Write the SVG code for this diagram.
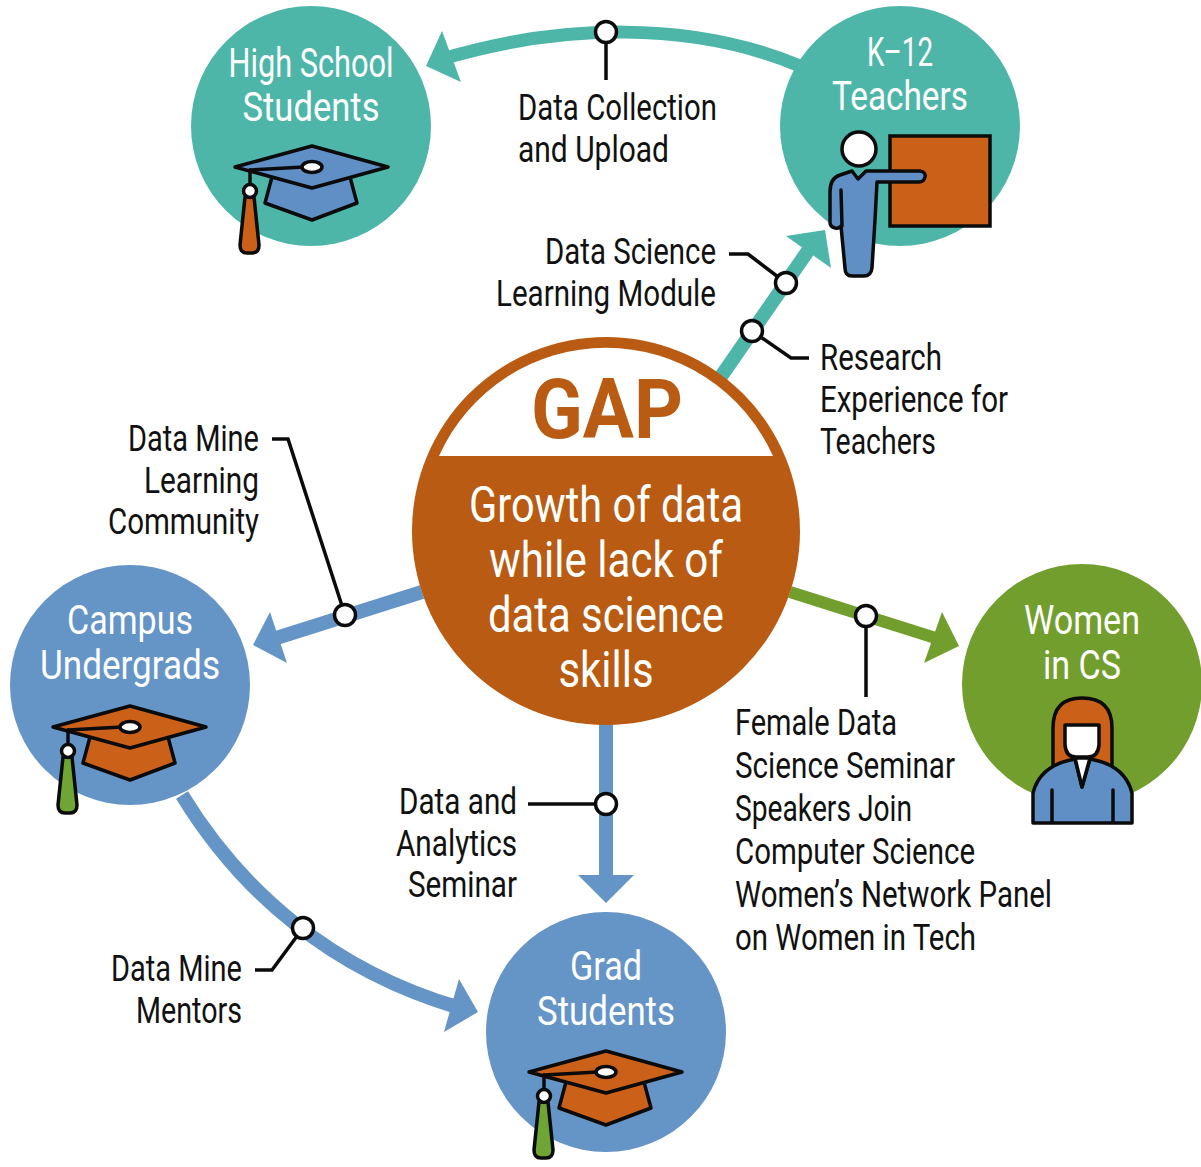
<svg xmlns="http://www.w3.org/2000/svg" width="1201" height="1167" viewBox="0 0 1201 1167">
<style>
.t{font-family:"Roboto","Liberation Sans",sans-serif;font-size:37px;fill:#111;}
.w{font-family:"Roboto","Liberation Sans",sans-serif;font-size:41px;fill:#fff;text-anchor:middle;}
.g{font-family:"Roboto","Liberation Sans",sans-serif;font-size:50px;fill:#fff;text-anchor:middle;}
.e{text-anchor:end}
.ol{stroke:#0b0b0b;stroke-width:3.5;stroke-linejoin:round;stroke-linecap:round}
.lead{fill:none;stroke:#0b0b0b;stroke-width:3.5}
.dot{fill:#fff;stroke:#0b0b0b;stroke-width:3.5}
.blue{fill:#6595c7}.hblue{fill:#5f8fc5}.org{fill:#cb6119}.corg{fill:#b95b12}.teal{fill:#4db6a9}.grn{fill:#729e2e}.tas{fill:#6fa534}
</style>
<defs>
<g id="hatshape">
<path class="ol" d="M-40 10 L-47 36 L0 53 L45 36 L38 10 Z"/>
<path class="ol" d="M-77 0 L0 -21 L76 0 L0 21 Z"/>
<path class="ol" d="M-62 3 L-8 0" fill="none"/>
<ellipse class="ol" cx="0" cy="0" rx="10" ry="5.5" fill="#fff"/>
<path class="ol" d="M-62 3 V20" fill="none"/>
</g>
<g id="knob">
<circle class="ol" cx="-62" cy="24" r="6.5" fill="#fff"/>
</g>
<path id="tassel" d="M-67 30 H-58 L-53 78 Q-53 86 -60 86 H-65 Q-72 86 -72 78 Z"/>
</defs>
<g id="connectors">
<path d="M800 66 C690 20 560 24 442 59" fill="none" stroke="#4db6a9" stroke-width="13"/>
<polygon points="426,66 442,31 461,82" class="teal"/>
<path d="M720 378 L812 245" fill="none" stroke="#4db6a9" stroke-width="14"/>
<polygon points="786,236 825,230 831,268" class="teal"/>
<path d="M422 592 L270 640" fill="none" stroke="#6595c7" stroke-width="14"/>
<polygon points="253,645 270,612 287,663" class="blue"/>
<path d="M606 720 V880" fill="none" stroke="#6595c7" stroke-width="14"/>
<polygon points="606,903 578,875 634,875" class="blue"/>
<path d="M182 795 C240 890 330 970 460 1008" fill="none" stroke="#6595c7" stroke-width="14"/>
<polygon points="478,1012 459,979 444,1032" class="blue"/>
<path d="M790 592 L945 641" fill="none" stroke="#729e2e" stroke-width="12"/>
<polygon points="959,646 942,612 924,663" class="grn"/>
<path class="lead" d="M606 32 V80"/><circle class="dot" cx="606" cy="32" r="10.5"/>
<path class="lead" d="M729 254 H748 L786 283"/><circle class="dot" cx="786" cy="283" r="10.5"/>
<path class="lead" d="M752 331 L791 358 H809"/><circle class="dot" cx="752" cy="331" r="10.5"/>
<path class="lead" d="M272 439 H288 L345 615"/><circle class="dot" cx="345" cy="615" r="10.5"/>
<path class="lead" d="M528 804 H606"/><circle class="dot" cx="606" cy="804" r="10.5"/>
<path class="lead" d="M255 970 H272 L303 928"/><circle class="dot" cx="303" cy="928" r="10.5"/>
<path class="lead" d="M866 616 V697"/><circle class="dot" cx="866" cy="616" r="10.5"/>
</g>
<g id="high-school">
<circle cx="311" cy="126" r="120" class="teal"/>
<text class="w" x="311" y="77" textLength="165" lengthAdjust="spacingAndGlyphs">High School</text>
<text class="w" x="311" y="121" textLength="137" lengthAdjust="spacingAndGlyphs">Students</text>
<g transform="translate(312 167)"><use href="#hatshape" class="hblue"/>
<use href="#tassel" class="ol org"/><use href="#knob"/></g>
</g>
<g id="k12">
<circle cx="900" cy="126" r="120" class="teal"/>
<text class="w" x="900" y="66" textLength="66" lengthAdjust="spacingAndGlyphs">K–12</text>
<text class="w" x="900" y="110" textLength="136" lengthAdjust="spacingAndGlyphs">Teachers</text>
<rect x="890" y="136" width="100" height="90" fill="#cb6119" stroke="#0b0b0b" stroke-width="3.5"/>
<path class="ol hblue" d="M852 171 L858 179 L866 171 H920 Q926 172 925 177 Q924 182 919 182 H877 L875 220 L872 268 Q871 276 864 276 H852 Q845 276 845 268 L841 226 Q839 229 835 228 Q830 227 830 222 V192 Q830 178 840 175 Z"/>
<path class="ol" d="M841 190 L842 226" fill="none"/>
<circle class="ol" cx="859" cy="149" r="17" fill="#fff"/>
</g>
<g id="women">
<circle cx="1082" cy="684" r="120" class="grn"/>
<text class="w" x="1082" y="634" textLength="116" lengthAdjust="spacingAndGlyphs">Women</text>
<text class="w" x="1082" y="679" textLength="78" lengthAdjust="spacingAndGlyphs">in CS</text>
<path class="ol org" d="M1053 770 V728 Q1053 698 1082 698 Q1112 698 1112 728 V770 Z"/>
<path class="ol" fill="#fff" d="M1065 725 H1099 V745 Q1098 757 1088 757 H1076 Q1066 757 1065 745 Z"/>
<path class="ol hblue" d="M1033 823 V793 Q1040 765 1075 759 L1082 787 L1090 759 Q1125 765 1132 793 V823 Z"/>
<path fill="#fff" class="ol" d="M1075 758 H1090 L1082 787 Z"/>
<path class="ol" d="M1052 790 V822 M1113 790 V822" fill="none"/>
</g>
<g id="campus">
<circle cx="130" cy="685" r="120" class="blue"/>
<text class="w" x="130" y="634" textLength="126" lengthAdjust="spacingAndGlyphs">Campus</text>
<text class="w" x="130" y="679" textLength="180" lengthAdjust="spacingAndGlyphs">Undergrads</text>
<g transform="translate(130 727)"><use href="#hatshape" class="org"/>
<use href="#tassel" class="ol tas"/><use href="#knob"/></g>
</g>
<g id="grad">
<circle cx="606" cy="1032" r="120" class="blue"/>
<text class="w" x="606" y="980" textLength="72" lengthAdjust="spacingAndGlyphs">Grad</text>
<text class="w" x="606" y="1025" textLength="138" lengthAdjust="spacingAndGlyphs">Students</text>
<g transform="translate(606 1072)"><use href="#hatshape" class="org"/>
<use href="#tassel" class="ol tas"/><use href="#knob"/></g>
</g>
<g id="gap">
<circle cx="606" cy="531" r="194" class="corg"/>
<path d="M439 456 A183 183 0 0 1 773 456 Z" fill="#fff"/>
<text x="607" y="438" font-family="Roboto,'Liberation Sans',sans-serif" font-weight="700" font-size="83" fill="#b95b12" text-anchor="middle" textLength="152" lengthAdjust="spacingAndGlyphs">GAP</text>
<text class="g" x="606" y="522" textLength="274" lengthAdjust="spacingAndGlyphs">Growth of data</text>
<text class="g" x="606" y="577" textLength="234" lengthAdjust="spacingAndGlyphs">while lack of</text>
<text class="g" x="606" y="632" textLength="236" lengthAdjust="spacingAndGlyphs">data science</text>
<text class="g" x="606" y="687" textLength="95" lengthAdjust="spacingAndGlyphs">skills</text>
</g>
<g id="labels">
<text class="t" x="518" y="120" textLength="199" lengthAdjust="spacingAndGlyphs">Data Collection</text>
<text class="t" x="518" y="162" textLength="151" lengthAdjust="spacingAndGlyphs">and Upload</text>
<text class="t e" x="716" y="264" textLength="171" lengthAdjust="spacingAndGlyphs">Data Science</text>
<text class="t e" x="716" y="306" textLength="220" lengthAdjust="spacingAndGlyphs">Learning Module</text>
<text class="t" x="820" y="370" textLength="122" lengthAdjust="spacingAndGlyphs">Research</text>
<text class="t" x="820" y="412" textLength="188" lengthAdjust="spacingAndGlyphs">Experience for</text>
<text class="t" x="820" y="454" textLength="116" lengthAdjust="spacingAndGlyphs">Teachers</text>
<text class="t e" x="259" y="451" textLength="131" lengthAdjust="spacingAndGlyphs">Data Mine</text>
<text class="t e" x="259" y="493" textLength="115" lengthAdjust="spacingAndGlyphs">Learning</text>
<text class="t e" x="259" y="534" textLength="151" lengthAdjust="spacingAndGlyphs">Community</text>
<text class="t e" x="517" y="814" textLength="118" lengthAdjust="spacingAndGlyphs">Data and</text>
<text class="t e" x="517" y="856" textLength="121" lengthAdjust="spacingAndGlyphs">Analytics</text>
<text class="t e" x="517" y="897" textLength="109" lengthAdjust="spacingAndGlyphs">Seminar</text>
<text class="t e" x="242" y="981" textLength="131" lengthAdjust="spacingAndGlyphs">Data Mine</text>
<text class="t e" x="242" y="1023" textLength="106" lengthAdjust="spacingAndGlyphs">Mentors</text>
<text class="t" x="735" y="735" textLength="162" lengthAdjust="spacingAndGlyphs">Female Data</text>
<text class="t" x="735" y="778" textLength="220" lengthAdjust="spacingAndGlyphs">Science Seminar</text>
<text class="t" x="735" y="821" textLength="177" lengthAdjust="spacingAndGlyphs">Speakers Join</text>
<text class="t" x="735" y="864" textLength="240" lengthAdjust="spacingAndGlyphs">Computer Science</text>
<text class="t" x="735" y="907" textLength="317" lengthAdjust="spacingAndGlyphs">Women’s Network Panel</text>
<text class="t" x="735" y="950" textLength="241" lengthAdjust="spacingAndGlyphs">on Women in Tech</text>
</g>
</svg>
